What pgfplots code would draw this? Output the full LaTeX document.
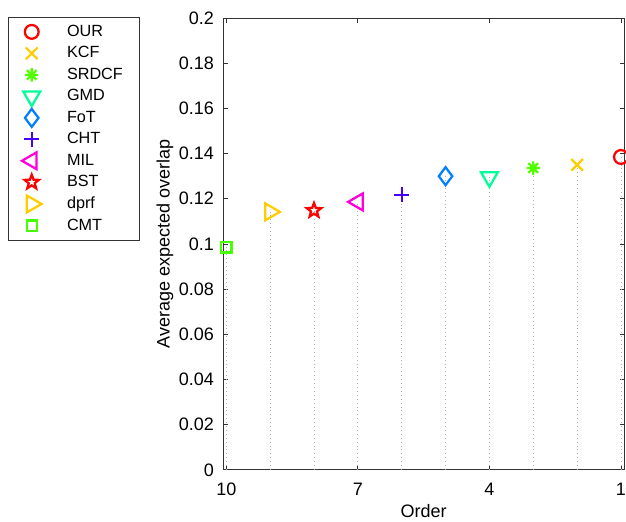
\documentclass[border=0pt]{standalone}
\usepackage{fontspec}
\setmainfont{Liberation Sans}
\usepackage{pgfplots}
\pgfplotsset{compat=1.18}
\definecolor{cour}{RGB}{255,0,0}
\definecolor{ckcf}{RGB}{255,204,0}
\definecolor{csrdcf}{RGB}{80,255,0}
\definecolor{cgmd}{RGB}{0,255,150}
\definecolor{cfot}{RGB}{0,128,255}
\definecolor{ccht}{RGB}{68,0,255}
\definecolor{cmil}{RGB}{255,0,220}
\definecolor{cbst}{RGB}{255,0,0}
\definecolor{cdprf}{RGB}{255,204,0}
\definecolor{ccmt}{RGB}{70,255,0}
\pgfdeclareplotmark{pentagram}{%
  \pgfpathmoveto{\pgfqpointpolar{90}{\pgfplotmarksize}}%
  \pgfpathlineto{\pgfqpointpolar{126}{0.42\pgfplotmarksize}}%
  \pgfpathlineto{\pgfqpointpolar{162}{\pgfplotmarksize}}%
  \pgfpathlineto{\pgfqpointpolar{198}{0.42\pgfplotmarksize}}%
  \pgfpathlineto{\pgfqpointpolar{234}{\pgfplotmarksize}}%
  \pgfpathlineto{\pgfqpointpolar{270}{0.42\pgfplotmarksize}}%
  \pgfpathlineto{\pgfqpointpolar{306}{\pgfplotmarksize}}%
  \pgfpathlineto{\pgfqpointpolar{342}{0.42\pgfplotmarksize}}%
  \pgfpathlineto{\pgfqpointpolar{18}{\pgfplotmarksize}}%
  \pgfpathlineto{\pgfqpointpolar{54}{0.42\pgfplotmarksize}}%
  \pgfpathclose
  \pgfusepathqstroke}
\pgfdeclareplotmark{ast8}{%
  \pgfpathmoveto{\pgfqpoint{-\pgfplotmarksize}{0pt}}\pgfpathlineto{\pgfqpoint{\pgfplotmarksize}{0pt}}%
  \pgfpathmoveto{\pgfqpoint{0pt}{-\pgfplotmarksize}}\pgfpathlineto{\pgfqpoint{0pt}{\pgfplotmarksize}}%
  \pgfpathmoveto{\pgfqpointpolar{45}{\pgfplotmarksize}}\pgfpathlineto{\pgfqpointpolar{225}{\pgfplotmarksize}}%
  \pgfpathmoveto{\pgfqpointpolar{135}{\pgfplotmarksize}}\pgfpathlineto{\pgfqpointpolar{315}{\pgfplotmarksize}}%
  \pgfusepathqstroke}
\begin{document}
\fontsize{12}{14}\selectfont
\begin{tikzpicture}
\begin{axis}[
  scale only axis,
  width=267pt, height=301pt,
  x dir=reverse,
  xmin=0.93, xmax=10.07,
  ymin=0, ymax=0.2,
  xtick={1,4,7,10},
  ytick={0,0.02,0.04,0.06,0.08,0.1,0.12,0.14,0.16,0.18,0.2},
  yticklabel style={/pgf/number format/fixed,/pgf/number format/precision=2, xshift=-2pt},
  xticklabel style={yshift=-4.3pt},
  /pgf/number format/assume math mode=true,
  tick label style={font=\fontsize{12}{14}\selectfont},
  label style={font=\fontsize{12}{14}\selectfont},
  tick align=inside,
  major tick length=3pt,
  axis line style={black!80, line width=0.5pt},
  tick style={black!80, line width=0.5pt},
  xlabel={Order},
  ylabel={Average expected overlap},
  ylabel style={yshift=-4.5pt},
  xlabel style={yshift=2pt},
  clip=false,
  legend cell align=left,
  legend style={at={(axis description cs:0,1)}, anchor=north west,
    xshift=-143.3pt, yshift=0.7pt, draw=black!80, line width=0.5pt,
    font=\fontsize{10.8}{12}\selectfont, row sep=1pt,
    inner xsep=9pt, inner ysep=3pt},
  legend image code/.code={\draw[#1] plot coordinates {(0.3cm,0cm)};},
  every axis plot/.append style={line width=1.5pt},
]
% dotted stems
\addplot[forget plot, ycomb, mark=none, draw=black!30, line width=0.6pt, dotted] coordinates {
 (1,0.1385) (2,0.135) (3,0.1336) (4,0.1296) (5,0.130) (6,0.1217) (7,0.1186) (8,0.1148) (9,0.1142) (10,0.0985)};
\addplot[only marks, cour, mark=o, mark size=4.6pt] coordinates {(1,0.1385)};
\addlegendentry{\hspace*{15pt}OUR}
\addplot[only marks, ckcf, mark=x, mark size=5.5pt] coordinates {(2,0.135)};
\addlegendentry{\hspace*{15pt}KCF}
\addplot[only marks, csrdcf, mark=ast8, mark size=4.5pt] coordinates {(3,0.1336)};
\addlegendentry{\hspace*{15pt}SRDCF}
\addplot[only marks, cgmd, mark=triangle, mark size=6.5pt, mark options={rotate=180}] coordinates {(4,0.1296)};
\addlegendentry{\hspace*{15pt}GMD}
\addplot[only marks, cfot, mark=diamond, mark size=6pt] coordinates {(5,0.130)};
\addlegendentry{\hspace*{15pt}FoT}
\addplot[only marks, ccht, mark=+, mark size=5pt] coordinates {(6,0.1217)};
\addlegendentry{\hspace*{15pt}CHT}
\addplot[only marks, cmil, mark=triangle, mark size=6.5pt, mark options={rotate=90}] coordinates {(7,0.1186)};
\addlegendentry{\hspace*{15pt}MIL}
\addplot[only marks, cbst, mark=pentagram, mark size=5pt] coordinates {(8,0.1148)};
\addlegendentry{\hspace*{15pt}BST}
\addplot[only marks, cdprf, mark=triangle, mark size=6.5pt, mark options={rotate=-90}] coordinates {(9,0.1142)};
\addlegendentry{\hspace*{15pt}dprf}
\addplot[only marks, ccmt, mark=square, mark size=3.4pt] coordinates {(10,0.0985)};
\addlegendentry{\hspace*{15pt}CMT}
\end{axis}
\pgfresetboundingbox
\path[use as bounding box] ([shift={(-148.7pt,-34.7pt)}]current axis.south west) rectangle ([shift={(1.3pt,12pt)}]current axis.north east);
\end{tikzpicture}
\end{document}
